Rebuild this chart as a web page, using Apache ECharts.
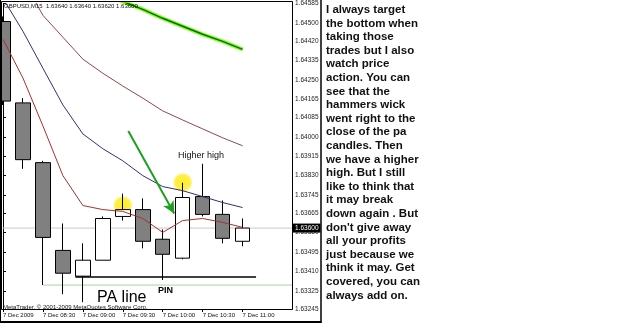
<!DOCTYPE html>
<html><head><meta charset="utf-8">
<script src="https://cdn.jsdelivr.net/npm/echarts/dist/echarts.min.js"></script>
<style>html,body{margin:0;padding:0;background:#fff;}#c{width:625px;height:327px;}</style>
</head><body><div id="c"></div>
<script>
// ---- data ----
const categories = ['7 Dec 2009','7 Dec 08:15','7 Dec 08:30','7 Dec 08:45','7 Dec 09:00','7 Dec 09:15','7 Dec 09:30','7 Dec 09:45','7 Dec 10:00','7 Dec 10:15','7 Dec 10:30','7 Dec 10:45','7 Dec 11:00'];
const opens  = [1.64506,1.64149,1.63887,1.63502,1.63389,1.63459,1.63651,1.63681,1.63551,1.63468,1.63738,1.63660,1.63542];
const closes = [1.64157,1.63900,1.63559,1.63402,1.63459,1.63642,1.63681,1.63542,1.63485,1.63734,1.63660,1.63555,1.63600];
const lows   = [1.64140,1.63860,1.63350,1.63310,1.63275,1.63459,1.63633,1.63511,1.63372,1.63463,1.63651,1.63533,1.63520];
const highs  = [1.64528,1.64170,1.63895,1.63620,1.63533,1.63651,1.63751,1.63730,1.63594,1.63799,1.63882,1.63721,1.63642];
const maBlue  = [1.64607,1.64463,1.64301,1.64140,1.64013,1.63948,1.63895,1.63830,1.63782,1.63764,1.63738,1.63712,1.63690];
const maRed   = [1.64428,1.64258,1.64048,1.63830,1.63699,1.63681,1.63673,1.63642,1.63581,1.63633,1.63642,1.63625,1.63603];
const maSlow  = [1.64812,1.64690,1.64533,1.64437,1.64341,1.64279,1.64223,1.64170,1.64114,1.64074,1.64035,1.63996,1.63961];
const maGreen = [null,null,null,null,null,1.64629,1.64594,1.64559,1.64520,1.64485,1.64450,1.64419,1.64384];
const yTicks = [1.63245,1.63325,1.63410,1.63495,1.63580,1.63665,1.63745,1.63830,1.63915,1.64000,1.64085,1.64165,1.64250,1.64335,1.64420,1.64500,1.64585];
const xTicks = [0,2,4,6,8,10,12];
const bidPrice = 1.63600;
const bidLine = [[-0.025,bidPrice],[14.475,bidPrice]];
const highlights = [[6,1.63699],[9,1.63800]];
const arrowLine = [[6.275,1.64026],[8.575,1.63664]];
const paLine = [[3.625,1.63385],[12.675,1.63385]];
const supportLine = [[2,1.63350],[14.5,1.63350]];
const headerText = 'GBPUSD,M15  1.63640 1.63640 1.63620 1.63600';
const footerText = 'MetaTrader, \u00a9 2001-2009 MetaQuotes Software Corp.';
const noteLines = ['I always target','the bottom when','taking those','trades but I also','watch price','action. You can','see that the','hammers wick','went right to the','close of the pa','candles. Then','we have a higher','high. But I still','like to think that','it may break','down again . But',"don't give away",'all your profits','just because we','think it may. Get','covered, you can','always add on.'];

const idx = (arr)=>arr.map((v,i)=>[i,v]);
const candleData = opens.map((o,i)=>[i, o, closes[i], lows[i], highs[i]]);

const chart = echarts.init(document.getElementById('c'), null, {renderer:'canvas'});
const option = {
  animation:false,
  backgroundColor:'#fff',
  grid:{left:2, top:2, width:290, height:307},
  xAxis:{
    type:'value', min:-0.025, max:14.475,
    axisLine:{show:true, onZero:false, lineStyle:{color:'#000', width:1}},
    axisTick:{show:true, customValues:xTicks, length:3, lineStyle:{color:'#000'}},
    axisLabel:{customValues:xTicks, formatter:(v)=>categories[Math.round(v)]||'', align:'left', fontSize:6, fontFamily:'Liberation Sans', color:'#111', margin:3},
    splitLine:{show:false}
  },
  yAxis:{
    type:'value', position:'right', min:1.63245, max:1.64585, scale:true,
    splitLine:{show:false},
    axisLine:{show:true, lineStyle:{color:'#000'}},
    axisTick:{show:true, length:3, customValues:yTicks, lineStyle:{color:'#000'}},
    axisLabel:{customValues:yTicks, formatter:(v)=>v.toFixed(5), fontSize:6.5, fontFamily:'Liberation Sans', color:'#222', margin:3}
  },
  series:[
    {type:'line', data:bidLine, symbol:'none', z:1, silent:true, clip:false,
     lineStyle:{color:'#c8c8c8', width:1},
     endLabel:{show:true, formatter:()=>bidPrice.toFixed(5), backgroundColor:'#000', color:'#fff', fontSize:6.5, fontFamily:'Liberation Sans', padding:[1,2], distance:1}},
    {type:'scatter', data:highlights, symbolSize:19, z:1, silent:true,
     itemStyle:{color:{type:'radial',x:0.5,y:0.5,r:0.5,colorStops:[{offset:0,color:'#ffe800'},{offset:0.75,color:'#ffec10'},{offset:1,color:'#fff6a0'}]}}},
    {type:'candlestick', data:candleData, barWidth:15, z:3,
     encode:{x:0, y:[1,2,3,4]},
     itemStyle:{color:'#ffffff', color0:'#808080', borderColor:'#000', borderColor0:'#000', borderWidth:1}},
    {type:'line', data:idx(maSlow), symbol:'none', z:4, lineStyle:{color:'#904848', width:1}},
    {type:'line', data:idx(maBlue), symbol:'none', z:4, lineStyle:{color:'#30307a', width:1}},
    {type:'line', data:idx(maRed), symbol:'none', z:4, lineStyle:{color:'#a83030', width:1}},
    {type:'line', data:idx(maGreen), symbol:'none', z:4, lineStyle:{color:'#80ff20', width:4}},
    {type:'line', data:idx(maGreen), symbol:'none', z:5, lineStyle:{color:'#0a6a0a', width:1.5}},
    {type:'line', data:supportLine, symbol:'none', z:2, lineStyle:{color:'#a8d0a8', width:1}},
    {type:'line', data:paLine, symbol:'none', z:5, lineStyle:{color:'#000', width:1.5}},
    {type:'line', data:[], z:6,
     markLine:{silent:true, animation:false, symbol:['none','arrow'], symbolSize:[9,12],
       lineStyle:{color:'#1ea01e', width:2, type:'solid'}, label:{show:false},
       data:[[{coord:arrowLine[0]},{coord:arrowLine[1]}]]}}
  ],
  graphic:[
    {type:'rect', shape:{x:1.5,y:1.5,width:291,height:308}, style:{fill:'none', stroke:'#000', lineWidth:1}, z:100},
    {type:'line', shape:{x1:321,y1:0,x2:321,y2:323}, style:{stroke:'#000', lineWidth:1.5}, z:100},
    {type:'line', shape:{x1:0,y1:322,x2:321.5,y2:322}, style:{stroke:'#000', lineWidth:2}, z:100},
    {type:'line', shape:{x1:0.5,y1:0,x2:0.5,y2:323}, style:{stroke:'#000', lineWidth:1}, z:100},
    {type:'text', left:4, top:3, z:100, style:{text:headerText, font:'6px "Liberation Sans"', fill:'#111'}},
    {type:'text', left:3, top:304, z:100, style:{text:footerText, font:'6px "Liberation Sans"', fill:'#111'}},
    {type:'text', left:178, top:151, z:100, style:{text:'Higher high', font:'9px "Liberation Sans"', fill:'#111'}},
    {type:'text', left:158, top:286, z:100, style:{text:'PIN', font:'bold 9px "Liberation Sans"', fill:'#000'}},
    {type:'text', left:97, top:290, z:100, style:{text:'PA line', font:'16px "Liberation Sans"', fill:'#000'}},
    {type:'text', left:326, top:3, z:100, style:{text:noteLines.join('\n'), font:'bold 11.5px "Liberation Sans"', lineHeight:13.6, fill:'#111'}}
  ]
};
chart.setOption(option);
</script></body></html>
